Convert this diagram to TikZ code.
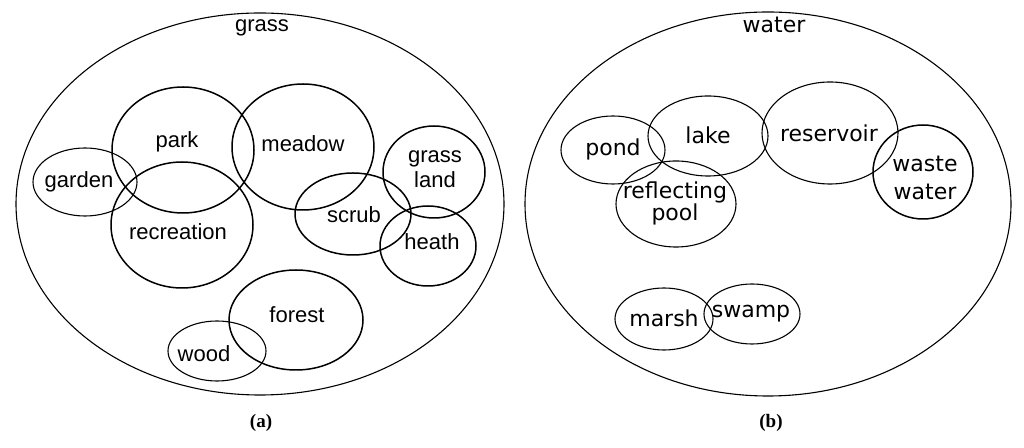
\documentclass[tikz,border=0pt]{standalone}
\usepackage{fontspec}
\usepackage{tikz}
\newfontfamily\arialfont{Liberation Sans}
\newfontfamily\dejavufont{DejaVu Sans}
\newfontfamily\capfont{Liberation Serif}

\begin{document}
\begin{tikzpicture}[x=0.5pt,y=-0.5pt]
        \tikzstyle{every node}+=[inner sep=0pt,anchor=base]
        \tikzstyle{set}=[black,line width=0.75pt]
        \tikzstyle{thinset}=[black,line width=0.55pt]
        \tikzstyle{grasstext}=[font=\arialfont\fontsize{11}{12.5}\selectfont,align=center]
        \tikzstyle{watertext}=[font=\dejavufont\fontsize{11}{11}\selectfont,align=center]
        \tikzstyle{caption}=[font=\capfont\fontsize{9.5}{10}\selectfont\bfseries]
        \useasboundingbox (0,0) rectangle (1024,448);
        % (a) grass
        \draw [thinset] (260,204) ellipse (244 and 191);
        \node [grasstext] (grass) at (262,32) {grass};
        \draw [set] (183,150) ellipse (71 and 63);
        \node [grasstext] (park) at (177,148) {park};
        \draw [set] (303,147) ellipse (71 and 63);
        \node [grasstext] (meadow) at (303,152) {meadow};
        \draw [thinset] (85,182) ellipse (52 and 34);
        \node [grasstext] (garden) at (79,188) {garden};
        \draw [set] (182,225) ellipse (71 and 63);
        \node [grasstext] (recreation) at (178,240) {recreation};
        \draw [set] (434,172) ellipse (51 and 46);
        \node [grasstext] (grassland) at (435,188) {grass\\land};
        \draw [set] (353,214) ellipse (58 and 41);
        \node [grasstext] (scrub) at (354,223) {scrub};
        \draw [set] (428,246) ellipse (48 and 40);
        \node [grasstext] (heath) at (432,250) {heath};
        \draw [set] (296,320) ellipse (67 and 50);
        \node [grasstext] (forest) at (297,323) {forest};
        \draw [thinset] (217,351) ellipse (49 and 30);
        \node [grasstext] (wood) at (204,362) {wood};
        \node [caption] (capa) at (261,428) {(a)};
        % (b) water
        \draw [thinset] (768,204) ellipse (243 and 192);
        \node [watertext] (water) at (774,33) {water};
        \draw [thinset] (613,150) ellipse (52 and 34);
        \node [watertext] (pond) at (613,156) {pond};
        \draw [thinset] (708,136) ellipse (60 and 40);
        \node [watertext] (lake) at (708,144) {lake};
        \draw [thinset] (830,133) ellipse (68 and 51);
        \node [watertext] (reservoir) at (829,142) {reservoir};
        \draw [set] (923,172) ellipse (50 and 47);
        \node [watertext,font=\dejavufont\fontsize{11}{14}\selectfont] (wastewater) at (925,200) {waste\\water};
        \draw [thinset] (676,204) ellipse (60 and 43);
        \node [watertext] (reflecting) at (675,221) {reflecting\\pool};
        \draw [thinset] (664,319) ellipse (49 and 31);
        \node [watertext] (marsh) at (664,327) {marsh};
        \draw [thinset] (752,314) ellipse (48 and 30);
        \node [watertext] (swamp) at (751,318) {swamp};
        \node [caption] (capb) at (771,428) {(b)};
\end{tikzpicture}
\end{document}
